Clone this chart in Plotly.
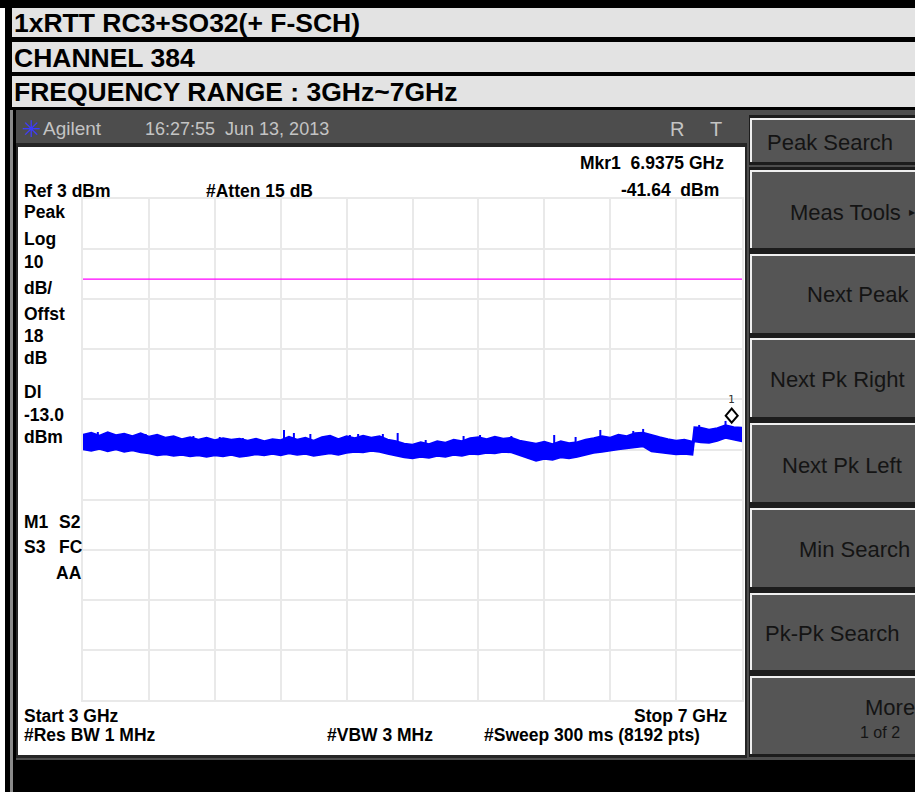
import plotly.graph_objects as go

W, H = 915, 792

# ---------------- data ----------------
freq_ghz = [3.00, 3.05, 3.10, 3.15, 3.20, 3.25, 3.30, 3.35, 3.40, 3.45,
            3.50, 3.55, 3.60, 3.65, 3.70, 3.75, 3.80, 3.85, 3.90, 3.95,
            4.00, 4.05, 4.10, 4.15, 4.20, 4.25, 4.30, 4.35, 4.40, 4.45,
            4.50, 4.55, 4.60, 4.65, 4.70, 4.75, 4.80, 4.85, 4.90, 4.95,
            5.00, 5.05, 5.10, 5.15, 5.20, 5.25, 5.30, 5.35, 5.40, 5.45,
            5.50, 5.55, 5.60, 5.65, 5.70, 5.75, 5.80, 5.85, 5.90, 5.95,
            6.00, 6.05, 6.10, 6.15, 6.20, 6.25, 6.30, 6.35, 6.40, 6.45,
            6.50, 6.55, 6.60, 6.65, 6.70,
            6.71, 6.75, 6.80, 6.85, 6.90, 6.95, 7.00]

upper_dbm = [-44.0, -43.6, -44.2, -43.5, -44.1, -43.8, -44.3, -43.7, -44.4, -44.0,
             -44.6, -44.3, -44.9, -44.5, -45.0, -44.6, -45.1, -44.7, -45.0, -44.8,
             -45.2, -44.8, -45.3, -44.9, -45.1, -44.4, -45.0, -44.6, -45.2, -44.5,
             -44.2, -44.9, -44.3, -44.7, -44.2, -44.6, -44.3, -45.0, -45.3, -45.8,
             -46.0, -45.5, -45.9, -45.3, -45.6, -45.0, -45.3, -44.7, -44.5, -44.9,
             -44.4, -44.8, -44.6, -45.2, -45.5, -45.8, -45.4, -45.9, -45.3, -45.7,
             -45.5, -45.0, -44.7, -44.3, -44.6, -44.0, -44.3, -43.7, -43.6, -44.1,
             -44.5, -44.9, -45.2, -45.0, -45.4,
             -42.5, -42.6, -43.0, -42.7, -42.1, -42.5, -42.6]

lower_dbm = [-47.0, -47.3, -46.9, -47.4, -47.0, -47.5, -47.2, -47.6, -47.8, -48.2,
             -48.0, -48.3, -48.1, -48.4, -48.2, -48.5, -48.2, -48.4, -48.1, -48.5,
             -48.3, -48.0, -48.2, -47.9, -48.2, -47.8, -48.1, -47.9, -48.3, -48.0,
             -47.8, -48.1, -47.7, -47.5, -47.6, -47.3, -47.5, -47.9, -48.3, -48.6,
             -48.8, -48.5, -48.7, -48.3, -48.5, -48.1, -48.3, -47.9, -48.0, -47.7,
             -47.8, -47.5, -47.6, -48.2, -48.7, -49.3, -48.9, -49.1, -48.6, -48.8,
             -48.5, -48.1, -47.7, -47.5, -47.2, -47.0, -46.8, -46.6, -46.4, -47.4,
             -47.6, -47.8, -48.0, -47.9, -48.1,
             -45.4, -45.6, -45.7, -45.3, -44.7, -45.0, -45.4]

# isolated noise peaks sticking out above the band
spike_freq_ghz = [3.09, 3.27, 3.38, 3.52, 3.67, 3.83, 3.97, 4.22, 4.28, 4.38,
                  4.62, 4.67, 4.82, 4.91, 5.08, 5.31, 5.41, 5.60, 5.86, 5.99,
                  6.14, 6.34, 6.40, 6.67, 6.74, 6.90]
spike_top_dbm = [-43.5, -43.9, -43.9, -44.5, -44.3, -44.5, -44.7, -43.1, -43.7, -43.9,
                 -44.1, -43.9, -43.9, -43.7, -45.1, -44.3, -44.1, -44.3, -44.1, -44.5,
                 -43.1, -43.3, -42.9, -45.1, -42.1, -41.3]

start_ghz, stop_ghz = 3, 7
ref_level_dbm = 3
db_per_div = 10
n_div = 10
display_line_dbm = -13.0
marker_freq_ghz = 6.9375
marker_level_dbm = -41.64

title_lines = ["1xRTT RC3+SO32(+ F-SCH)", "CHANNEL 384", "FREQUENCY RANGE : 3GHz~7GHz"]
softkey_labels = ["Peak Search", "Meas Tools", "Next Peak", "Next Pk Right",
                  "Next Pk Left", "Min Search", "Pk-Pk Search", "More"]
left_labels = ["Peak", "Log", "10", "dB/", "Offst", "18", "dB", "Dl", "-13.0", "dBm"]

# ---------------- helpers ----------------
FONT = "Liberation Sans, Arial, sans-serif"
LBL = 17.5  # on-screen bold label size


def X(px):
    return px / W


def Y(py):
    return 1 - py / H


shapes = []
annotations = []


def rect(x0, y0, x1, y1, fill):
    shapes.append(dict(type="rect", xref="paper", yref="paper",
                       x0=X(x0), x1=X(x1), y0=Y(y1), y1=Y(y0),
                       fillcolor=fill, line=dict(width=0), layer="below"))


def txt(x, y, s, size, anchor="left", color="black", bold=True, family=FONT):
    annotations.append(dict(x=X(x), y=Y(y), xref="paper", yref="paper", text=s,
                            showarrow=False, xanchor=anchor, yanchor="middle",
                            font=dict(family=family, size=size, color=color,
                                      weight="bold" if bold else "normal")))


# ---------------- frame ----------------
rect(0, 8, 5, 792, "#ffffff")
title_rows = [(8, 37), (42, 72), (76, 107)]
for (t, b), s in zip(title_rows, title_lines):
    rect(12, t, 915, b, "#e3e3e3")
    txt(12, (t + b) / 2 + 1, s, 26.5)

rect(10, 110, 13, 792, "#8a8a8a")
rect(16, 110, 915, 760, "#4d4d4d")
rect(16, 143, 747, 758, "#262626")
rect(18, 147, 745, 755, "#ffffff")

# Agilent bar
txt(20, 129, "✳", 23, color="#3a3aff", bold=False, family="DejaVu Sans")
txt(41, 129, "Agilent", 19, color="#c4c4c4", bold=False)
txt(143, 129, "16:27:55  Jun 13, 2013", 18, color="#c4c4c4", bold=False)
txt(677, 129, "R", 20, anchor="center", color="#c4c4c4", bold=False)
txt(716, 129, "T", 20, anchor="center", color="#c4c4c4", bold=False)

# soft keys
btn_rows = [(118, 162), (170, 248), (254, 333), (338, 417),
            (423, 502), (508, 587), (593, 670), (676, 754)]
btn_text_x = [765, 788, 805, 768, 780, 797, 763, 863]
btn_text_y = [142, 212, 295, 379, 465, 549, 633, 707]
for (t, b) in btn_rows:
    rect(749, t - 3, 915, b + 3, "#1c1c1c")
    rect(750, t, 915, b, "#efefef")
    rect(752, t + 2, 915, b, "#555555")
for s, x, y in zip(softkey_labels, btn_text_x, btn_text_y):
    txt(x, y, s, 22, color="#141414", bold=False)
txt(912, 212, "▶", 8, anchor="center", color="#141414", bold=False)
txt(858, 732, "1 of 2", 16, color="#141414", bold=False)

# screen annotations
txt(726, 163, "Mkr1  6.9375 GHz", LBL, anchor="right")
txt(721, 190, "-41.64  dBm", LBL, anchor="right")
txt(22, 191, "Ref 3 dBm", LBL)
txt(204, 191, "#Atten 15 dB", LBL)
left_y = [212, 239, 262, 288, 314, 336, 358, 392, 415, 437]
for s, y in zip(left_labels, left_y):
    txt(22, y, s, LBL)
txt(22, 522, "M1", LBL)
txt(57, 522, "S2", LBL)
txt(22, 547, "S3", LBL)
txt(57, 547, "FC", LBL)
txt(54, 573, "AA", LBL)
txt(22, 716, "Start 3 GHz", LBL)
txt(730, 716, "Stop 7 GHz", LBL, anchor="right")
txt(22, 735, "#Res BW 1 MHz", LBL)
txt(325, 735, "#VBW 3 MHz", LBL)
txt(482, 735, "#Sweep 300 ms (8192 pts)", LBL)

# display line (data coords)
shapes.append(dict(type="line", xref="x", yref="y", x0=start_ghz, x1=stop_ghz,
                   y0=display_line_dbm, y1=display_line_dbm,
                   line=dict(color="#ff00ff", width=1.2)))

# marker diamond: bottom tip sits on the data point
shapes.append(dict(type="path", xref="x", yref="y",
                   xsizemode="pixel", ysizemode="pixel",
                   xanchor=marker_freq_ghz, yanchor=marker_level_dbm,
                   path="M 0 0 L 6 7 L 0 14 L -6 7 Z",
                   line=dict(color="black", width=2), fillcolor="rgba(255,255,255,0.9)"))
annotations.append(dict(x=marker_freq_ghz, y=marker_level_dbm, xref="x", yref="y",
                        text="1", showarrow=False, yshift=23, xanchor="center",
                        yanchor="middle", font=dict(family="DejaVu Sans Mono", size=11,
                                                    color="#333333")))

# ---------------- traces ----------------
fig = go.Figure()
fig.add_trace(go.Scatter(x=freq_ghz, y=lower_dbm, mode="lines",
                         line=dict(color="#0000ff", width=1.5), hoverinfo="skip"))
fig.add_trace(go.Scatter(x=freq_ghz, y=upper_dbm, mode="lines", fill="tonexty",
                         fillcolor="#0000ff",
                         line=dict(color="#0000ff", width=1.5), hoverinfo="skip"))

spike_len_db = 2.5
sx, sy = [], []
for f, top in zip(spike_freq_ghz, spike_top_dbm):
    sx += [f, f, None]
    sy += [top, top - spike_len_db, None]
fig.add_trace(go.Scatter(x=sx, y=sy, mode="lines", connectgaps=False,
                         line=dict(color="#0000ff", width=2), hoverinfo="skip"))

bottom_dbm = ref_level_dbm - db_per_div * n_div
fig.update_layout(
    width=W, height=H, autosize=False,
    margin=dict(l=0, r=0, t=0, b=0),
    paper_bgcolor="#000000", plot_bgcolor="rgba(0,0,0,0)",
    showlegend=False,
    shapes=shapes, annotations=annotations,
    xaxis=dict(domain=[X(83), X(742)], range=[start_ghz, stop_ghz],
               tick0=start_ghz, dtick=(stop_ghz - start_ghz) / n_div,
               showgrid=True, gridcolor="#e9e9e9", gridwidth=2,
               showline=True, linecolor="#e9e9e9", linewidth=2, mirror=True,
               showticklabels=False, ticks="", zeroline=False, fixedrange=True),
    yaxis=dict(domain=[Y(700), Y(199)], range=[bottom_dbm, ref_level_dbm],
               tick0=ref_level_dbm, dtick=db_per_div,
               showgrid=True, gridcolor="#e9e9e9", gridwidth=2,
               showline=True, linecolor="#e9e9e9", linewidth=2, mirror=True,
               showticklabels=False, ticks="", zeroline=False, fixedrange=True),
)

fig.write_html("out.html", config={"displayModeBar": False},
               post_script="document.body.style.margin='0';")
